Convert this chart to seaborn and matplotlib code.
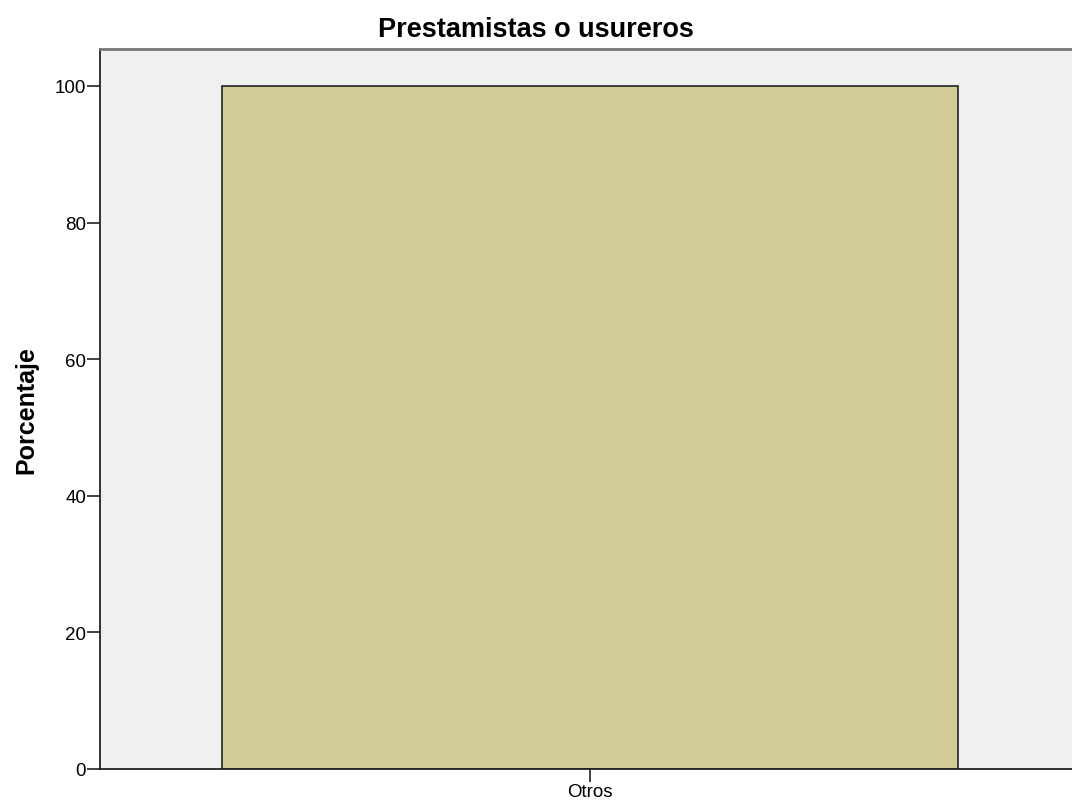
import numpy as np
import pandas as pd
import matplotlib
matplotlib.use("Agg")
import matplotlib.pyplot as plt
import seaborn as sns

# --- Data ---
categories = ["Otros"]
percentages = [100.0]
yticks = [0, 20, 40, 60, 80, 100]

df = pd.DataFrame({"cat": categories, "pct": percentages})

sns.set_style("white")
plt.rcParams["font.family"] = ["Liberation Sans", "DejaVu Sans"]
plt.rcParams["text.color"] = "black"
plt.rcParams["axes.labelcolor"] = "black"
plt.rcParams["xtick.color"] = "black"
plt.rcParams["ytick.color"] = "black"

W, H = 1072, 803
fig = plt.figure(figsize=(W / 100, H / 100), dpi=100)
# axes box in pixels: left 100, top 50, bottom 770, right runs past the edge
ax = fig.add_axes([100 / W, (H - 770) / H, 980 / W, 720 / H])
ax.set_facecolor("#F0F0F0")

sns.barplot(data=df, x="cat", y="pct", color="#D2CD96", saturation=1,
            width=0.8, edgecolor="#222222", linewidth=1.2, ax=ax)

ax.set_xlim(-0.532, 0.532)
ax.set_ylim(0, 105.4)
ax.set_yticks(yticks)
ax.set_yticklabels([str(t) for t in yticks])
ax.tick_params(axis="both", direction="out", length=9.5, width=1.2,
               color="#222222", labelsize=13.5, pad=0.5)
ax.yaxis.set_ticks_position("left")
ax.xaxis.set_ticks_position("bottom")

for side in ["left", "bottom"]:
    ax.spines[side].set_color("#222222")
    ax.spines[side].set_linewidth(1.3)
ax.spines["top"].set_color("#777777")
ax.spines["top"].set_linewidth(2)
ax.spines["right"].set_visible(False)

ax.set_xlabel("")
ax.set_ylabel("Porcentaje", fontsize=18, fontweight="bold", labelpad=12)
fig.text(0.5, 1 - 30 / H, "Prestamistas o usureros", fontsize=19.5,
         fontweight="bold", ha="center", va="center")

fig.savefig("out.png", dpi=100, facecolor="white")
